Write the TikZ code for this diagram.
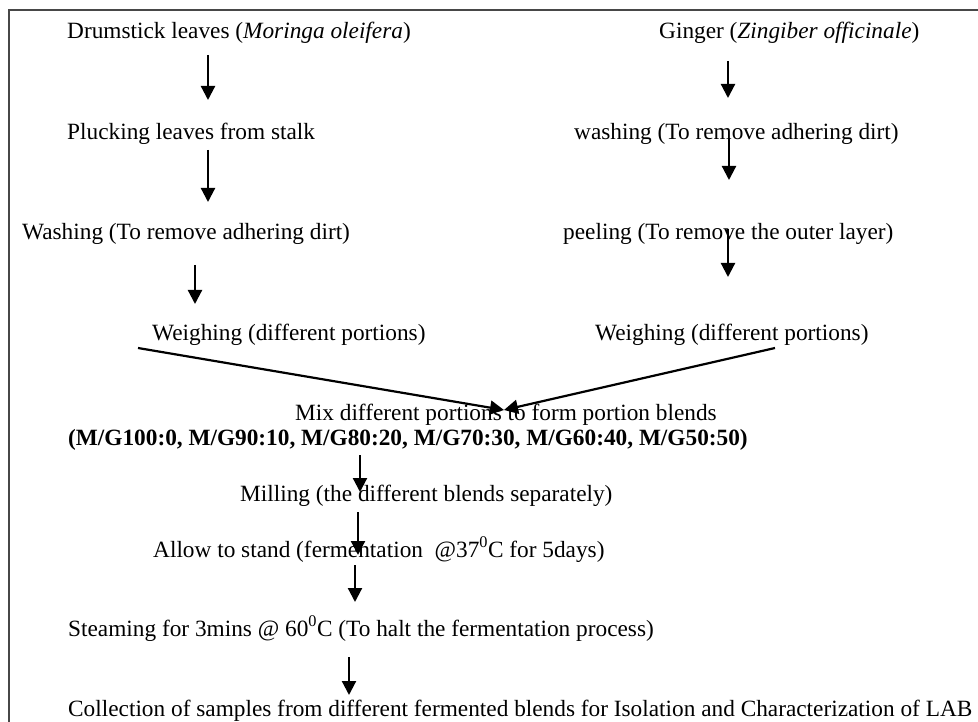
\documentclass[tikz,border=0pt]{standalone}
\usepackage{fontspec}
\setmainfont{Liberation Serif}
\usetikzlibrary{arrows.meta}
\begin{document}
\begin{tikzpicture}[x=1pt,y=-1pt,
  lbl/.style={anchor=base west,inner sep=0pt,font=\fontsize{23.3}{28}\selectfont},
  flow/.style={line width=2.2pt,-{Triangle[length=14pt,width=14pt]}},
  frame/.style={line width=1.4pt,draw=black!72}]
\useasboundingbox (0,0) rectangle (978,722);
\draw[frame] (9,722) -- (9,10) -- (978,10);
% left column
\node[lbl] (d1) at (67,39) {Drumstick leaves (\textit{Moringa oleifera})};
\node[lbl] (d2) at (67,140) {Plucking leaves from stalk};
\node[lbl] (d3) at (22,240) {Washing (To remove adhering dirt)};
\node[lbl] (d4) at (152,341) {Weighing (different portions)};
% right column
\node[lbl] (g1) at (659,39) {Ginger (\textit{Zingiber officinale})};
\node[lbl] (g2) at (574,140) {washing (To remove adhering dirt)};
\node[lbl] (g3) at (563,240) {peeling (To remove the outer layer)};
\node[lbl] (g4) at (595,341) {Weighing (different portions)};
% middle
\node[lbl] (m1) at (295,420) {Mix different portions to form portion blends};
\node[lbl] (m2) at (68,445) {\textbf{(M/G100:0, M/G90:10, M/G80:20, M/G70:30, M/G60:40, M/G50:50)}};
\node[lbl] (m3) at (240,501) {Milling (the different blends separately)};
\node[lbl] (m4) at (153,557) {Allow to stand (fermentation \ @37\textsuperscript{0}C for 5days)};
\node[lbl] (m5) at (68,636) {Steaming for 3mins @ 60\textsuperscript{0}C (To halt the fermentation process)};
\node[lbl] (m6) at (68,716) {Collection of samples from different fermented blends for Isolation and Characterization of LAB};
% arrow end points
\coordinate (a1s) at (208,55);  \coordinate (a1e) at (208,100);
\coordinate (a2s) at (208,150); \coordinate (a2e) at (208,202);
\coordinate (a3s) at (195,265); \coordinate (a3e) at (195,304);
\coordinate (b1s) at (728,61);  \coordinate (b1e) at (728,98);
\coordinate (b2s) at (729,138); \coordinate (b2e) at (729,180);
\coordinate (b3s) at (728,229); \coordinate (b3e) at (728,277);
\coordinate (cl) at (138,348);  \coordinate (cr) at (775,348);
\coordinate (tip) at (504,410);
\coordinate (c1s) at (360,455); \coordinate (c1e) at (360,492);
\coordinate (c2s) at (358,512); \coordinate (c2e) at (358,555);
\coordinate (c3s) at (355,565); \coordinate (c3e) at (355,602);
\coordinate (c4s) at (349,657); \coordinate (c4e) at (349,695);
\draw[flow] (a1s) -- (a1e);
\draw[flow] (a2s) -- (a2e);
\draw[flow] (a3s) -- (a3e);
\draw[flow] (b1s) -- (b1e);
\draw[flow] (b2s) -- (b2e);
\draw[flow] (b3s) -- (b3e);
\draw[flow] (cl) -- (tip);
\draw[flow] (cr) -- (tip);
\draw[flow] (c1s) -- (c1e);
\draw[flow] (c2s) -- (c2e);
\draw[flow] (c3s) -- (c3e);
\draw[flow] (c4s) -- (c4e);
\end{tikzpicture}
\end{document}
